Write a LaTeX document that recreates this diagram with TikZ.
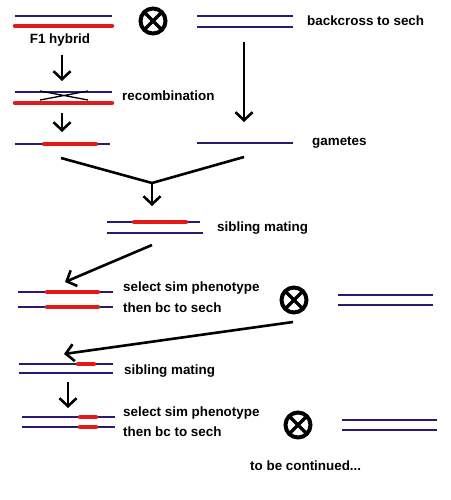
\documentclass[tikz,border=0pt]{standalone}
\usepackage{fontspec}
\setmainfont{Liberation Sans}
\usetikzlibrary{arrows.meta}
\definecolor{cromo}{RGB}{45,25,115}
\definecolor{rojo}{RGB}{225,25,25}
\tikzset{
  azul/.style={cromo, line width=2pt},
  gruesa/.style={rojo, line width=4.5pt, line cap=round},
  flecha/.style={line width=2.6pt, -{Straight Barb[length=8pt,width=17pt]}},
  trazo/.style={line width=2.6pt},
  cruce/.style={circle, draw, line width=4pt, minimum size=25pt, inner sep=0pt,
    path picture={\draw[line width=3.2pt] (path picture bounding box.north west) -- (path picture bounding box.south east)
      (path picture bounding box.north east) -- (path picture bounding box.south west);}},
  texto/.style={font=\bfseries\fontsize{13.4}{15}\selectfont, anchor=west, inner sep=0pt},
}
\begin{document}
\begin{tikzpicture}[x=1pt,y=-1pt]
    \useasboundingbox[fill=white] (0,0) rectangle (450,500);

    % F1 hibrido y retrocruza
    \draw[azul] (15,16) -- (112,16);
    \draw[gruesa] (15,26) -- (112,26);
    \node[texto, anchor=center] (f1) at (60,40) {F1 hybrid};
    \node[cruce] (x1) at (153,21) {};
    \draw[azul] (197,16) -- (293,16);
    \draw[azul] (197,27) -- (293,27);
    \node[texto] (bc) at (307,21) {backcross to sech};

    % Recombinacion
    \draw[azul] (15,92) -- (112,92);
    \draw[gruesa] (15,103) -- (112,103);
    \draw[line width=1.3pt] (40,91) -- (88,100) (40,100) -- (88,91);
    \node[texto] (rec) at (122,96) {recombination};

    % Gametos
    \draw[azul] (15,144) -- (110,144);
    \draw[gruesa] (44,144) -- (96,144);
    \draw[azul] (197,143) -- (293,143);
    \node[texto] (gam) at (312,143) {gametes};

    % Flechas
    \coordinate (a1) at (62,55);   \coordinate (b1) at (62,81);
    \coordinate (a2) at (62,113);  \coordinate (b2) at (62,132);
    \coordinate (a3) at (244,42);  \coordinate (b3) at (244,122);
    \coordinate (v1) at (61,158);  \coordinate (v2) at (244,157);
    \coordinate (vm) at (152,183); \coordinate (vb) at (152,206);
    \draw[flecha] (a1) -- (b1);
    \draw[flecha] (a2) -- (b2);
    \draw[flecha] (a3) -- (b3);
    \draw[trazo, line join=miter] (v1) -- (vm) -- (v2);
    \draw[flecha] (vm) -- (vb);

    % Cruza entre hermanos
    \draw[azul] (107,222) -- (200,222);
    \draw[gruesa] (134,222) -- (186,222);
    \draw[azul] (107,233) -- (203,233);
    \node[texto] (sib1) at (217,228) {sibling mating};

    \coordinate (a4) at (152,245); \coordinate (b4) at (65,282);
    \draw[flecha] (a4) -- (b4);

    % Seleccion y retrocruza
    \draw[azul] (18,292) -- (113,292);
    \draw[gruesa] (47,292) -- (98,292);
    \draw[azul] (18,307) -- (113,307);
    \draw[gruesa] (47,307) -- (98,307);
    \node[texto] (sel1) at (123,288) {select sim phenotype};
    \node[texto] (then1) at (123,308) {then bc to sech};
    \node[cruce] (x2) at (294,300) {};
    \draw[azul] (338,295) -- (433,295);
    \draw[azul] (338,305) -- (433,305);

    \coordinate (a5) at (293,322); \coordinate (b5) at (64,354);
    \draw[flecha] (a5) -- (b5);

    % Segunda cruza entre hermanos
    \draw[azul] (19,364) -- (113,364);
    \draw[gruesa] (78,364) -- (94,364);
    \draw[azul] (19,373) -- (113,373);
    \node[texto] (sib2) at (124,371) {sibling mating};

    \coordinate (a6) at (68,382); \coordinate (b6) at (68,408);
    \draw[flecha] (a6) -- (b6);

    % Seleccion final
    \draw[azul] (22,417) -- (115,417);
    \draw[gruesa] (80,417) -- (96,417);
    \draw[azul] (22,427) -- (115,427);
    \draw[gruesa] (80,427) -- (96,427);
    \node[texto] (sel2) at (123,413) {select sim phenotype};
    \node[texto] (then2) at (123,432) {then bc to sech};
    \node[cruce] (x3) at (298,425) {};
    \draw[azul] (342,420) -- (437,420);
    \draw[azul] (342,430) -- (437,430);

    \node[texto] (cont) at (250,466) {to be continued...};
\end{tikzpicture}
\end{document}
